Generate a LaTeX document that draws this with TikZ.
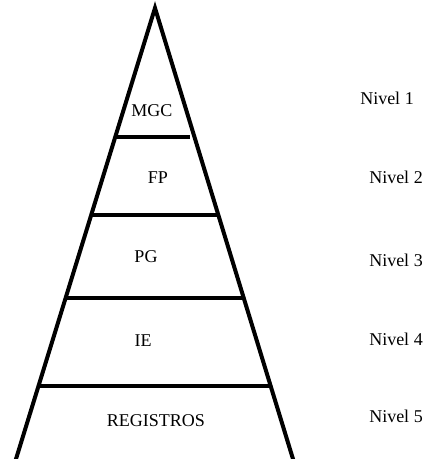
\documentclass[tikz,border=0pt]{standalone}
\usepackage{fontspec}
\setmainfont{Liberation Serif}
\usetikzlibrary{calc}
\begin{document}
\begin{tikzpicture}[x=1pt,y=1pt,
  edge/.style={line width=4pt},
  tier/.style={line width=3.6pt},
  lbl/.style={font=\fontsize{18}{21}\selectfont, inner sep=0pt, text height=0.66em, text depth=0pt, anchor=center}]
\useasboundingbox (0,0) rectangle (427,459);
\clip (0,0) rectangle (427,459);
\coordinate (apex) at (155,451);
\coordinate (bl) at ($(apex)!1.03!(16,0)$);
\coordinate (br) at ($(apex)!1.03!(293,0)$);
\draw[edge, line join=miter] (bl) -- (apex) -- (br);
\coordinate (a1) at (116,322); \coordinate (b1) at (190,322);
\coordinate (a2) at (92,244);  \coordinate (b2) at (217,244);
\coordinate (a3) at (66,161);  \coordinate (b3) at (242,161);
\coordinate (a4) at (38,73);   \coordinate (b4) at (270,73);
\draw[tier] (a1) -- (b1);
\draw[tier] (a2) -- (b2);
\draw[tier] (a3) -- (b3);
\draw[tier] (a4) -- (b4);
\node[lbl] (mgc) at (152,346) {MGC};
\node[lbl] (fp) at (158,279) {FP};
\node[lbl] (pg) at (146,200) {PG};
\node[lbl] (ie) at (143,116) {IE};
\node[lbl] (reg) at (156,36) {REGISTROS};
\node[lbl] (n1) at (387,358) {Nivel 1};
\node[lbl] (n2) at (396,279) {Nivel 2};
\node[lbl] (n3) at (396,196) {Nivel 3};
\node[lbl] (n4) at (396,117) {Nivel 4};
\node[lbl] (n5) at (396,40) {Nivel 5};
\end{tikzpicture}
\end{document}
